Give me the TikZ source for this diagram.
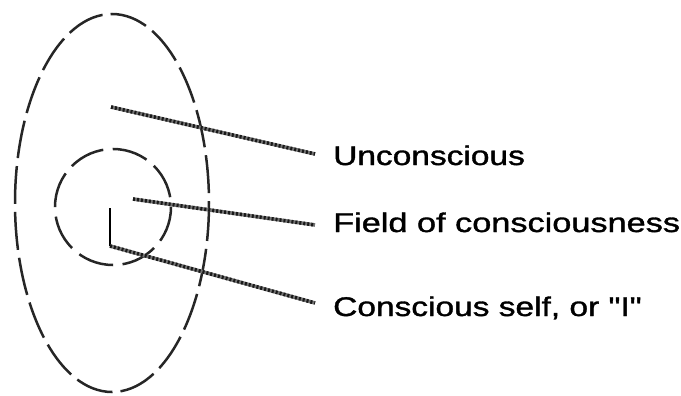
\documentclass[tikz,border=0pt]{standalone}
\usepackage{fontspec}
\usepackage{graphicx}
\setmainfont{Liberation Sans}
\newfontfamily\labfont[FakeBold=1.2]{Liberation Sans}
\begin{document}
\begin{tikzpicture}[x=1pt,y=-1pt,
  zone/.style={draw=black!85, line width=2.5pt, dash pattern=on 38pt off 8pt},
  inner/.style={draw=black!85, line width=2.5pt, dash pattern=on 36pt off 9.5pt},
  leader/.style={preaction={draw, black!55, line width=3.6pt}, draw=black!90, line width=3.6pt, dash pattern=on 2pt off 2pt},
  selfline/.style={draw=black, line width=2.8pt},
  lab/.style={anchor=base west, inner sep=0pt, font=\labfont\fontsize{27}{27}\selectfont}]
\useasboundingbox (0,0) rectangle (681,396);
\draw[zone] (112,203) ellipse [x radius=97, y radius=189];
\draw[inner] (113,207) circle [radius=58];
\node[lab] (u) at (333,165) {\scalebox{1.24}[1]{Unconscious}};
\node[lab] (f) at (333,232) {\scalebox{1.27}[1]{Field of consciousness}};
\node[lab] (c) at (333,316) {\scalebox{1.24}[1]{Conscious self, or \textquotedbl I\textquotedbl}};
\coordinate (ua) at (111,107);
\coordinate (fa) at (133,199);
\coordinate (ctop) at (110,208);
\coordinate (cb) at (110,246);
\draw[leader] (ua) -- ([xshift=-18pt,yshift=11pt]u.base west);
\draw[leader] (fa) -- ([xshift=-18pt,yshift=7pt]f.base west);
\draw[selfline] (ctop) -- (cb);
\draw[leader] (cb) -- ([xshift=-18pt,yshift=13pt]c.base west);
\end{tikzpicture}
\end{document}
